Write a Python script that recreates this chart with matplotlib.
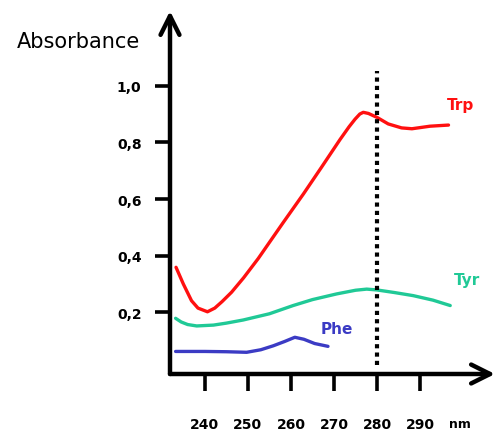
import numpy as np
import matplotlib
matplotlib.use('Agg')
import matplotlib.pyplot as plt

# data
trp_nm = [233.3, 235, 236.9, 238.4, 240.6, 242.3, 244, 246.2, 249, 252.4, 255, 258.2,
          262.9, 267, 271.4, 273.5, 274.9, 276, 276.8, 278, 280, 282.6, 285.7, 288.1,
          292.3, 296.6]
trp_abs = [0.359, 0.30, 0.241, 0.215, 0.202, 0.215, 0.238, 0.271, 0.322, 0.39, 0.447, 0.517,
           0.618, 0.71, 0.81, 0.855, 0.882, 0.90, 0.906, 0.902, 0.888, 0.865, 0.851, 0.848,
           0.857, 0.861]

tyr_nm = [233.2, 234.5, 236, 238.1, 242, 245, 248.9, 255, 260.5, 265, 270.6, 275, 277.6,
          280, 284, 288.4, 293, 297]
tyr_abs = [0.179, 0.166, 0.157, 0.152, 0.155, 0.162, 0.173, 0.195, 0.224, 0.245, 0.265, 0.278,
           0.282, 0.279, 0.27, 0.259, 0.243, 0.224]

phe_nm = [233.2, 240, 245, 249.7, 253, 255.9, 258.5, 260.9, 263, 265.5, 268.6]
phe_abs = [0.062, 0.062, 0.061, 0.059, 0.068, 0.082, 0.097, 0.112, 0.105, 0.09, 0.08]

x_ticks = [240, 250, 260, 270, 280, 290]
y_ticks = [0.2, 0.4, 0.6, 0.8, 1.0]
y_ticklabels = ['0,2', '0,4', '0,6', '0,8', '1,0']

red = '#ff1010'
teal = '#20c996'
blue = '#3b3bc4'

fig = plt.figure(figsize=(4.99, 4.35), dpi=100)
ax = fig.add_axes([170 / 499, 60 / 435, 325 / 499, 363 / 435])
ax.set_xlim(231.9, 307.4)
ax.set_ylim(-0.0176, 1.2636)

for s in ax.spines.values():
    s.set_visible(False)

# axes with arrow heads
ax.annotate('', xy=(1, 0), xytext=(0, 0), xycoords='axes fraction',
            arrowprops=dict(arrowstyle='->', lw=3.2, color='black', mutation_scale=34,
                            shrinkA=0, shrinkB=0))
ax.annotate('', xy=(0, 1), xytext=(0, 0), xycoords='axes fraction',
            arrowprops=dict(arrowstyle='->', lw=3.2, color='black', mutation_scale=34,
                            shrinkA=0, shrinkB=0))

ax.plot(trp_nm, trp_abs, color=red, lw=2.4, solid_capstyle='round', solid_joinstyle='round')
ax.plot(tyr_nm, tyr_abs, color=teal, lw=2.4, solid_capstyle='round', solid_joinstyle='round')
ax.plot(phe_nm, phe_abs, color=blue, lw=2.4, solid_capstyle='round', solid_joinstyle='round')

ax.vlines(280, 0.015, 1.053, color='black', lw=3, linestyles=(0, (1, 1)))

ax.text(299.3, 0.935, 'Trp', color=red, fontsize=11, fontweight='bold', ha='center', va='center')
ax.text(300.9, 0.315, 'Tyr', color=teal, fontsize=11, fontweight='bold', ha='center', va='center')
ax.text(270.6, 0.144, 'Phe', color=blue, fontsize=11, fontweight='bold', ha='center', va='center')

ax.set_xticks(x_ticks)
ax.set_xticklabels([str(t) for t in x_ticks])
ax.set_yticks(y_ticks)
ax.set_yticklabels(y_ticklabels)
ax.tick_params(axis='x', direction='out', length=12, width=2.6, pad=19, labelsize=10)
ax.tick_params(axis='y', direction='out', length=10.5, width=2.6, pad=10, labelsize=10)
for lab in ax.get_xticklabels() + ax.get_yticklabels():
    lab.set_fontweight('bold')

fig.text(78 / 499, 1 - 42 / 435, 'Absorbance', fontsize=15, ha='center', va='center')
fig.text(460 / 499, 1 - 425 / 435, 'nm', fontsize=9, fontweight='bold', ha='center', va='center')

fig.savefig('out.png', dpi=100)
